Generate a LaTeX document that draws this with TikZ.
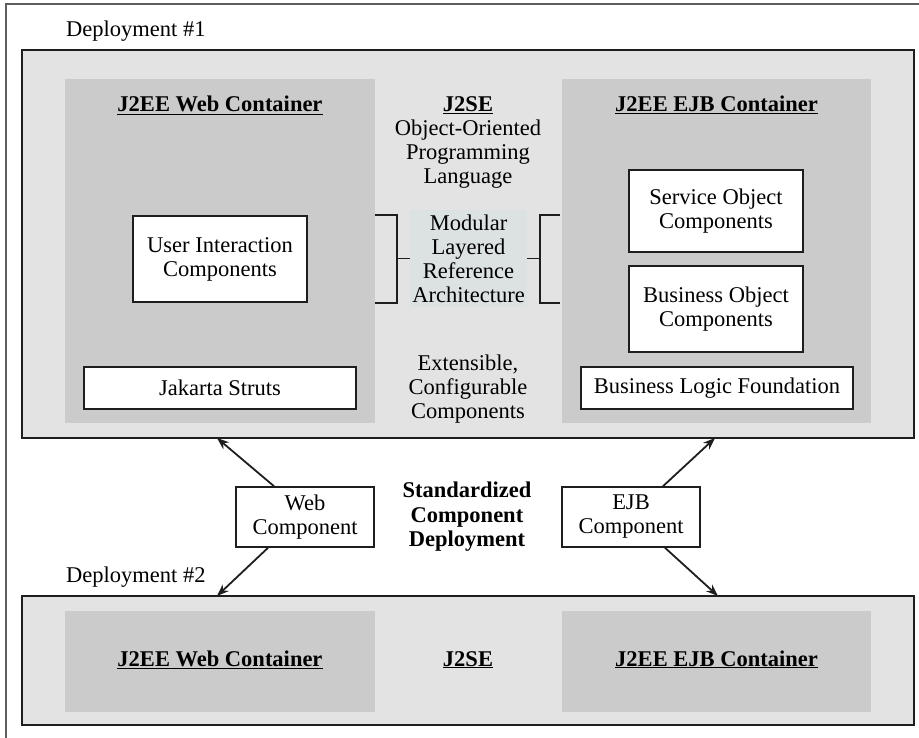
\documentclass[tikz,border=0pt]{standalone}
\usepackage{fontspec}
\setmainfont{Liberation Serif}
\usetikzlibrary{arrows.meta,positioning,calc}
\definecolor{ink}{RGB}{30,30,30}
\definecolor{rim}{RGB}{95,95,95}
\definecolor{pale}{RGB}{227,227,227}
\definecolor{shade}{RGB}{203,203,203}
\definecolor{mist}{RGB}{220,225,226}
\tikzset{
  >={Stealth[length=12pt,width=9pt]},
  deploy/.style={draw=ink,line width=1.8pt,fill=pale,inner sep=0pt},
  holder/.style={fill=shade,inner sep=0pt},
  comp/.style={draw=ink,line width=1.6pt,fill=white,align=center,inner sep=0pt,
    font=\fontsize{22.5}{24}\selectfont},
  tag/.style={font=\fontsize{22.5}{24}\selectfont,align=center,inner sep=0pt},
  head/.style={font=\fontsize{22.5}{24.5}\selectfont\bfseries,align=center,inner sep=0pt},
  bracket/.style={draw=ink,line width=1.8pt},
  flow/.style={->,line width=1.8pt,draw=ink},
}

\begin{document}
\begin{tikzpicture}[x=1pt,y=-1pt]
    \useasboundingbox (0,0) rectangle (919,738);
    \draw[rim,line width=1.5pt] (919,4) -- (6,4) -- (6,738);
    % deployment 1
    \node[tag,anchor=base west] (lab1) at (66,37) {Deployment \#1};
    \node[deploy,minimum width=892,minimum height=388] (dep1) at (468,244) {};
    \node[holder,minimum width=310,minimum height=344] (web1) at (220,251) {};
    \node[holder,minimum width=309,minimum height=344] (ejb1) at (716.5,251) {};
    \node[head,anchor=base] (webt1) at (220,112) {\underline{J2EE Web Container}};
    \node[head,anchor=base] (ejbt1) at (716.5,112) {\underline{J2EE EJB Container}};
    \node[head,anchor=base] (se1) at (468,112) {\underline{J2SE}};
    \node[tag] (oop) at (468,154) {Object-Oriented\\Programming\\Language};
    \node[tag,fill=mist,minimum width=117,minimum height=97] (mod) at (468.5,258.5)
      {Modular\\Layered\\Reference\\Architecture};
    \node[tag] (ext) at (468,389) {Extensible,\\Configurable\\Components};
    \node[comp,minimum width=174,minimum height=86] (ui) at (220,259) {User Interaction\\Components};
    \node[comp,minimum width=272,minimum height=42] (struts) at (220,388) {Jakarta Struts};
    \node[comp,minimum width=174,minimum height=82] (svc) at (716,211) {Service Object\\Components};
    \node[comp,minimum width=174,minimum height=86] (bus) at (716,309) {Business Object\\Components};
    \node[comp,minimum width=272,minimum height=42] (blf) at (717,388) {Business Logic Foundation};
    \draw[bracket] (web1.east |- ui.north) -| ([xshift=-13pt]mod.west) |- (web1.east |- ui.south);
    \draw[bracket] (mod.west) -- ++(-13,0);
    \draw[bracket] ([xshift=-2pt]ejb1.west |- ui.north) -| ([xshift=13pt]mod.east) |- ([xshift=-2pt]ejb1.west |- ui.south);
    \draw[bracket] (mod.east) -- ++(13,0);
    % deployment 2
    \node[tag,anchor=base west] (lab2) at (66,582) {Deployment \#2};
    \node[deploy,minimum width=892,minimum height=129] (dep2) at (468,660.5) {};
    \foreach \n/\x/\w/\t in {web2/220/310/J2EE Web Container,ejb2/716.5/309/J2EE EJB Container}
    {
      \node[holder,minimum width=\w,minimum height=101] (\n) at (\x,661.5) {};
      \node[head,anchor=base] at (\x,666) {\underline{\t}};
    }
    \node[head,anchor=base] (se2) at (468,666) {\underline{J2SE}};
    % standardized deployment
    \node[head] (std) at (467,517) {Standardized\\Component\\Deployment};
    \node[comp,minimum width=138,minimum height=60] (webc) at (305,517) {Web\\Component};
    \node[comp,minimum width=138,minimum height=60] (ejbc) at (631,517) {EJB\\Component};
    \coordinate (wup) at (217,438);
    \coordinate (wdn) at (217,596);
    \coordinate (eup) at (715,438);
    \coordinate (edn) at (718,596);
    \draw[flow] ([xshift=-31pt]webc.north) -- (wup);
    \draw[flow] ([xshift=-37pt]webc.south) -- (wdn);
    \draw[flow] ([xshift=32pt]ejbc.north) -- (eup);
    \draw[flow] ([xshift=34pt]ejbc.south) -- (edn);
  \end{tikzpicture}
\end{document}
